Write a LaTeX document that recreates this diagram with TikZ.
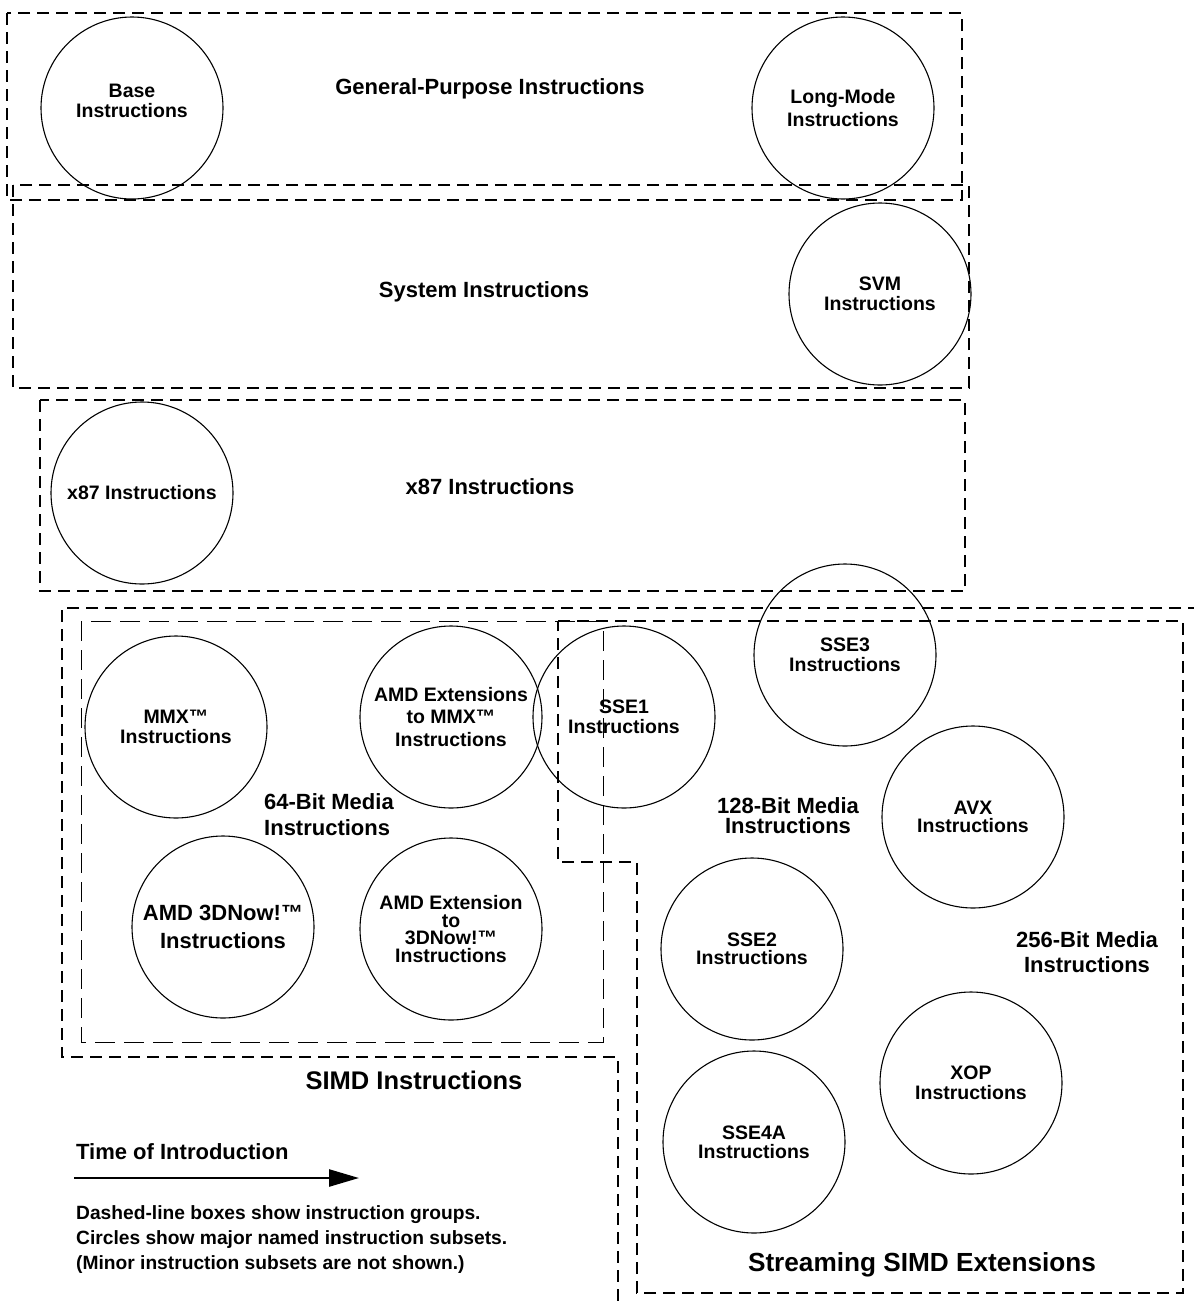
\documentclass[tikz,border=0pt]{standalone}
\usepackage{fontspec}
\setmainfont{Liberation Sans}
\usetikzlibrary{arrows.meta}
\newcommand\grpfont{\fontsize{22}{26}\selectfont\bfseries}
\newcommand\subfont{\fontsize{19.5}{20}\selectfont\bfseries}
\newcommand\bigfont{\fontsize{25.5}{30}\selectfont\bfseries}
\begin{document}
\begin{tikzpicture}[x=1pt, y=-1pt,
  group/.style={line width=2.4pt, dash pattern=on 12pt off 7pt},
  inner/.style={line width=1pt, dash pattern=on 20pt off 9pt},
  subset/.style={circle, draw, line width=1.1pt, minimum size=182pt, inner sep=0pt, align=center, font=\subfont},
  grouplabel/.style={align=center, inner sep=0pt, font=\grpfont},
  timearrow/.style={line width=2.5pt, -{Triangle[length=30pt, width=17pt]}}]
\useasboundingbox (0,0) rectangle (1194,1302);
\clip (0,0) rectangle (1194,1302);
% instruction groups
\draw[group] (7,13) rectangle (962,200);
\draw[group] (13,185) rectangle (969,388);
\draw[group] (40,400) rectangle (965,591);
\draw[group] (1200,608) -- (62,608) -- (62,1057) -- (618,1057) -- (618,1310);
\draw[inner] (81,621) rectangle (603,1042);
\draw[group] (558,621) -- (1183,621) -- (1183,1293) -- (637,1293) -- (637,862) -- (558,862) -- cycle;
\node[grouplabel] (gp) at (490,89) {General-Purpose Instructions};
\node[grouplabel] (sys) at (484,292) {System Instructions};
\node[grouplabel] (x87) at (490,487) {x87 Instructions};
\node[grouplabel, align=left, anchor=west] (media64) at (264,815) {64-Bit Media\\Instructions};
\node[grouplabel, font=\fontsize{22}{20}\selectfont\bfseries] (media128) at (788,816) {128-Bit Media\\Instructions};
\node[grouplabel, font=\fontsize{22}{25}\selectfont\bfseries] (media256) at (1087,952) {256-Bit Media\\Instructions};
\node[grouplabel, font=\bigfont] (simd) at (414,1080) {SIMD Instructions};
\node[grouplabel, font=\fontsize{26.2}{30}\selectfont\bfseries] (sse) at (922,1265) {Streaming SIMD Extensions};
% instruction subsets
\node[subset] (base) at (132,108) {};
\node[grouplabel, font=\subfont] (basetext) at ([yshift=7pt]base.center) {Base\\Instructions};
\node[subset, font=\fontsize{19.5}{23.5}\selectfont\bfseries] (longmode) at (843,108) {Long-Mode\\Instructions};
\node[subset] (svm) at (880,294) {SVM\\Instructions};
\node[subset] (x87c) at (142,493) {x87 Instructions};
\node[subset] (mmx) at (176,727) {MMX™\\Instructions};
\node[subset, font=\fontsize{19.5}{22.5}\selectfont\bfseries] (amdmmx) at (451,717) {AMD Extensions\\to MMX™\\Instructions};
\node[subset, font=\fontsize{22}{27.5}\selectfont\bfseries] (now) at (223,927) {AMD 3DNow!™\\Instructions};
\node[subset, font=\fontsize{19.5}{17.8}\selectfont\bfseries] (nowext) at (451,929) {AMD Extension\\to\\3DNow!™\\Instructions};
\node[subset] (sse1) at (624,717) {SSE1\\Instructions};
\node[subset] (sse3) at (845,655) {SSE3\\Instructions};
\node[subset, font=\fontsize{19.5}{18.5}\selectfont\bfseries] (avx) at (973,817) {AVX\\Instructions};
\node[subset, font=\fontsize{19.5}{18.5}\selectfont\bfseries] (sse2) at (752,949) {SSE2\\Instructions};
\node[subset] (xop) at (971,1083) {XOP\\Instructions};
\node[subset, font=\fontsize{19.5}{19}\selectfont\bfseries] (sse4a) at (754,1142) {SSE4A\\Instructions};
% legend
\node[grouplabel, anchor=west] (time) at (76,1152) {Time of Introduction};
\coordinate (timestart) at (74,1178);
\coordinate (timeend) at (359,1178);
\draw[timearrow] (timestart) -- (timeend);
\node[grouplabel, align=left, anchor=north west, font=\fontsize{19.2}{25}\selectfont\bfseries] (note) at (76,1205) {Dashed-line boxes show instruction groups.\\Circles show major named instruction subsets.\\(Minor instruction subsets are not shown.)};
\end{tikzpicture}
\end{document}
